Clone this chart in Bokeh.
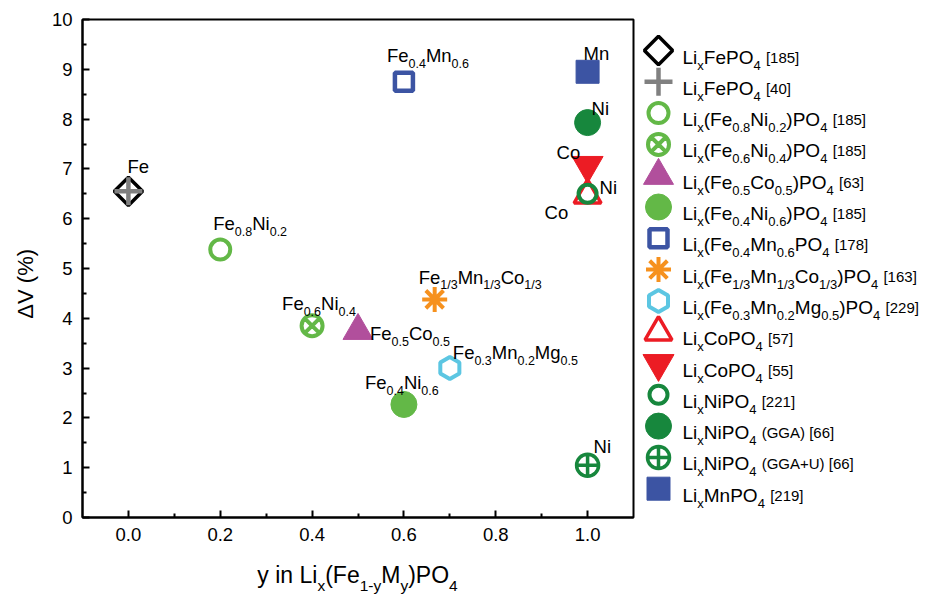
import math

from bokeh.core.properties import value
from bokeh.embed import file_html
from bokeh.layouts import column, row
from bokeh.models import (ColumnDataSource, Div, FixedTicker,
                          PrintfTickFormatter, Range1d)
from bokeh.plotting import figure
from bokeh.resources import INLINE

# ---------------------------------------------------------------------------
# Data: volume change on delithiation vs. substitution level y
# ---------------------------------------------------------------------------
series_formula = [
    "Li_{x}FePO_{4}",
    "Li_{x}FePO_{4}",
    "Li_{x}(Fe_{0.8}Ni_{0.2})PO_{4}",
    "Li_{x}(Fe_{0.6}Ni_{0.4})PO_{4}",
    "Li_{x}(Fe_{0.5}Co_{0.5})PO_{4}",
    "Li_{x}(Fe_{0.4}Ni_{0.6})PO_{4}",
    "Li_{x}(Fe_{0.4}Mn_{0.6}PO_{4}",
    "Li_{x}(Fe_{1/3}Mn_{1/3}Co_{1/3})PO_{4}",
    "Li_{x}(Fe_{0.3}Mn_{0.2}Mg_{0.5})PO_{4}",
    "Li_{x}CoPO_{4}",
    "Li_{x}CoPO_{4}",
    "Li_{x}NiPO_{4}",
    "Li_{x}NiPO_{4}",
    "Li_{x}NiPO_{4}",
    "Li_{x}MnPO_{4}",
]
series_ref = ["[185]", "[40]", "[185]", "[185]", "[63]", "[185]", "[178]",
              "[163]", "[229]", "[57]", "[55]", "[221]", "(GGA) [66]",
              "(GGA+U) [66]", "[219]"]
y_fraction = [0.0, 0.0, 0.2, 0.4, 0.5, 0.6, 0.6, 0.667, 0.7,
              1.0, 1.0, 1.0, 1.0, 1.0, 1.0]
delta_v = [6.55, 6.55, 5.38, 3.85, 3.75, 2.27, 8.75, 4.38, 3.0,
           6.47, 7.07, 6.5, 7.93, 1.05, 8.95]

x_ticks = [0.0, 0.2, 0.4, 0.6, 0.8, 1.0]
x_minor = [0.1, 0.3, 0.5, 0.7, 0.9]
y_ticks = [0, 1, 2, 3, 4, 5, 6, 7, 8, 9, 10]
y_minor = [0.5, 1.5, 2.5, 3.5, 4.5, 5.5, 6.5, 7.5, 8.5, 9.5]

x_title = "y in Li_{x}(Fe_{1-y}M_{y})PO_{4}"
y_title = "ΔV (%)"

# point annotations: (text, series index)
point_text = ["Fe", "Fe_{0.8}Ni_{0.2}", "Fe_{0.6}Ni_{0.4}", "Fe_{0.5}Co_{0.5}",
              "Fe_{0.4}Ni_{0.6}", "Fe_{0.4}Mn_{0.6}", "Fe_{1/3}Mn_{1/3}Co_{1/3}",
              "Fe_{0.3}Mn_{0.2}Mg_{0.5}", "Co", "Co", "Ni", "Ni", "Ni", "Mn"]
point_series = [0, 2, 3, 4, 5, 6, 7, 8, 9, 10, 11, 12, 13, 14]

# ---------------------------------------------------------------------------
# Styling
# ---------------------------------------------------------------------------
FONT = "Liberation Sans"
LG, DG = "#63b847", "#17873d"
PU, BL, OR = "#b14f9c", "#3c54a3", "#f6911e"
CY, RD, GR = "#5cc6e2", "#ec1c24", "#808080"

STYLES = [
    dict(marker="square", angle=math.pi / 4, size=20, line_color="black", fill_color=None, line_width=3.5),
    dict(marker="cross", size=28, line_color=GR, line_width=4.5),
    dict(marker="circle", size=20, line_color=LG, fill_color=None, line_width=4),
    dict(marker="circle_x", size=21, line_color=LG, fill_color=None, line_width=4),
    dict(marker="triangle", size=30, line_color=PU, fill_color=PU, line_width=1),
    dict(marker="circle", size=26, line_color=LG, fill_color=LG, line_width=1),
    dict(marker="square", size=18, line_color=BL, fill_color=None, line_width=4.5),
    dict(marker="asterisk", size=25, line_color=OR, line_width=4),
    dict(marker="hex", angle=math.pi / 2, size=22, line_color=CY, fill_color=None, line_width=4),
    dict(marker="triangle", size=27, line_color=RD, fill_color=None, line_width=3.5),
    dict(marker="inverted_triangle", size=31, line_color=RD, fill_color=RD, line_width=1),
    dict(marker="circle", size=18, line_color=DG, fill_color=None, line_width=4),
    dict(marker="circle", size=26, line_color=DG, fill_color=DG, line_width=1),
    dict(marker="circle_cross", size=22, line_color=DG, fill_color=None, line_width=3.5),
    dict(marker="square", size=23, line_color=BL, fill_color=BL, line_width=1),
]

# pixel offsets (left edge, baseline) of each point annotation from its point
POINT_OFFSETS = [(-1, -25), (-7, -26), (-30, -22), (12, 3), (-39, -22),
                 (-17, -26), (-16, -22), (3, -16), (-43, 17), (-31, -13),
                 (12, -6), (4, -14), (6, -19), (-4, -18)]

# Arial / Liberation Sans advance widths (per 1000 em) for laying out runs
ADV = {' ': 278, '%': 889, '(': 333, ')': 333, '+': 584, '-': 333, '.': 278,
       '/': 278, '[': 278, ']': 278, 'A': 667, 'C': 722, 'F': 611, 'G': 778,
       'L': 556, 'M': 833, 'N': 722, 'O': 778, 'P': 667, 'U': 722, 'V': 667,
       'e': 556, 'g': 556, 'i': 222, 'n': 556, 'o': 556, 'x': 500, 'y': 500}


def text_width(s, size):
    return sum(ADV.get(c, 556) for c in s) * size / 1000.0


def parse_runs(markup):
    """Split 'Fe_{0.8}Ni' style markup into (text, is_subscript) runs."""
    runs, buf, i = [], "", 0
    while i < len(markup):
        if markup.startswith("_{", i):
            if buf:
                runs.append((buf, False))
                buf = ""
            j = markup.index("}", i)
            runs.append((markup[i + 2:j], True))
            i = j + 1
        else:
            buf += markup[i]
            i += 1
    if buf:
        runs.append((buf, False))
    return runs


def layout_runs(markup, main, sub, drop, tail=None, tail_size=None):
    """Return (text, font_px, dx, dy) pieces with dy measured downward."""
    pieces, cx = [], 0.0
    for txt, is_sub in parse_runs(markup):
        size = sub if is_sub else main
        pieces.append((txt, size, cx, drop if is_sub else 0.0))
        cx += text_width(txt, size)
    if tail:
        cx += text_width(" ", main)
        pieces.append((tail, tail_size, cx, 0.0))
        cx += text_width(tail, tail_size)
    return pieces, cx


# frame placement shared by the panels
FRAME_L, FRAME_R, FRAME_T = 82, 7, 19
MAIN_W, MAIN_H, TITLE_H = 640, 560, 34
FRAME_B = 43

# ---------------------------------------------------------------------------
# Main scatter plot
# ---------------------------------------------------------------------------
p = figure(width=MAIN_W, height=MAIN_H, x_range=Range1d(-0.1, 1.1), y_range=Range1d(0, 10),
           output_backend="svg", toolbar_location=None,
           min_border_left=FRAME_L, min_border_right=FRAME_R,
           min_border_top=FRAME_T, min_border_bottom=FRAME_B)
p.grid.visible = False
p.background_fill_color = "white"
p.border_fill_color = "white"
p.outline_line_color = "black"
p.outline_line_width = 2

p.xaxis.ticker = FixedTicker(ticks=x_ticks, minor_ticks=x_minor)
p.xaxis.formatter = PrintfTickFormatter(format="%.1f")
p.yaxis.ticker = FixedTicker(ticks=y_ticks, minor_ticks=y_minor)
for ax in (p.xaxis, p.yaxis):
    ax.axis_line_width = 2
    ax.major_tick_in = 7
    ax.major_tick_out = 0
    ax.minor_tick_in = 4
    ax.minor_tick_out = 0
    ax.major_tick_line_width = 2
    ax.minor_tick_line_width = 2
    ax.major_label_text_font = FONT
    ax.major_label_text_font_size = "18.5px"
    ax.major_label_text_color = "black"
    ax.major_label_standoff = 10
# trailing no-break spaces nudge the rotated title a little below the frame centre
p.yaxis.axis_label = y_title + "\u00a0" * 5
p.yaxis.axis_label_text_font = FONT
p.yaxis.axis_label_text_font_size = "22px"
p.yaxis.axis_label_text_font_style = "normal"
p.yaxis.axis_label_text_color = "black"
p.yaxis.axis_label_standoff = 11

for i, st in enumerate(STYLES):
    p.scatter(x=[y_fraction[i]], y=[delta_v[i]], **st)

# point annotations with subscripts
ann = dict(x=[], y=[], text=[], dx=[], dy=[], fs=[])
for txt, k, (ox, oy) in zip(point_text, point_series, POINT_OFFSETS):
    pieces, _ = layout_runs(txt, 18.5, 12.5, 8)
    for s, size, dx, dy in pieces:
        ann["x"].append(y_fraction[k])
        ann["y"].append(delta_v[k])
        ann["text"].append(s)
        ann["dx"].append(ox + dx)
        ann["dy"].append(oy + dy)
        ann["fs"].append(f"{size}px")
p.text(x="x", y="y", text="text", x_offset="dx", y_offset="dy", text_font_size="fs",
       text_font=value(FONT), text_color="black", text_align="left",
       text_baseline="alphabetic", source=ColumnDataSource(ann))

# ---------------------------------------------------------------------------
# x-axis title (HTML, so the subscripts are real text), centred under the frame
# ---------------------------------------------------------------------------
def title_html(markup):
    parts = []
    for txt, is_sub in parse_runs(markup):
        if is_sub:
            parts.append(f'<span style="font-size:15.5px;position:relative;top:8px">{txt}</span>')
        else:
            parts.append(txt)
    return "".join(parts)


frame_mid = FRAME_L + (MAIN_W - FRAME_L - FRAME_R) / 2
x_title_div = Div(
    text=f'<div style="width:{MAIN_W}px;height:{TITLE_H}px;box-sizing:border-box;'
         f'padding-left:{2 * frame_mid - MAIN_W:.0f}px;text-align:center;'
         f'font-family:\'{FONT}\';font-size:23px;line-height:30px;color:black;'
         f'white-space:nowrap;overflow:hidden">{title_html(x_title)}</div>',
    width=MAIN_W, height=TITLE_H, margin=0)

# ---------------------------------------------------------------------------
# Legend panel (pixel coordinates, frame aligned with the plot frame)
# ---------------------------------------------------------------------------
LEG_W = 288
leg_top, leg_bottom = FRAME_T, MAIN_H - FRAME_B
leg = figure(width=LEG_W, height=MAIN_H + TITLE_H, x_range=Range1d(0, LEG_W),
             y_range=Range1d(leg_bottom, leg_top),
             x_axis_type=None, y_axis_type=None, output_backend="svg",
             toolbar_location=None, title_location=None,
             min_border_left=0, min_border_right=0,
             min_border_top=FRAME_T, min_border_bottom=MAIN_H + TITLE_H - leg_bottom)
leg.outline_line_color = None
leg.background_fill_color = "white"
leg.border_fill_color = "white"
leg.grid.visible = False

ROW0, ROW_STEP, MARK_X, TEXT_X = 50, 31.3, 18, 42
leg_txt = dict(x=[], y=[], text=[], fs=[])
for i, st in enumerate(STYLES):
    yc = ROW0 + ROW_STEP * i
    leg.scatter(x=[MARK_X], y=[yc], **st)
    pieces, _ = layout_runs(series_formula[i], 19, 13, 8, series_ref[i], 15)
    for s, size, dx, dy in pieces:
        leg_txt["x"].append(TEXT_X + dx)
        leg_txt["y"].append(yc + 6.5 + dy)
        leg_txt["text"].append(s)
        leg_txt["fs"].append(f"{size}px")
leg.text(x="x", y="y", text="text", text_font_size="fs", text_font=value(FONT),
         text_color="black", text_align="left", text_baseline="alphabetic",
         source=ColumnDataSource(leg_txt))

layout = row(column(p, x_title_div, spacing=0), leg, spacing=0)
open("out.html", "w").write(file_html(layout, INLINE))
